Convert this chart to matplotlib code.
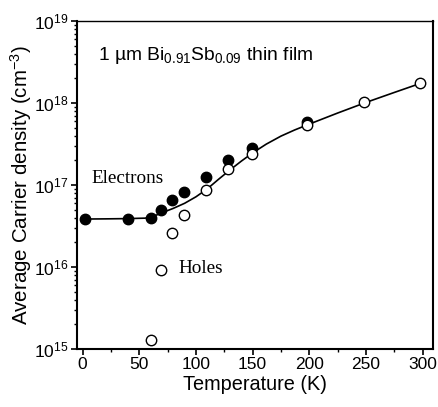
import numpy as np
import matplotlib
matplotlib.use("Agg")
import matplotlib.pyplot as plt
from matplotlib.ticker import LogLocator, MultipleLocator, FixedLocator

plt.rcParams['font.family'] = ['Liberation Sans', 'DejaVu Sans']
plt.rcParams['mathtext.fontset'] = 'custom'
plt.rcParams['mathtext.rm'] = 'Liberation Sans'
plt.rcParams['mathtext.it'] = 'Liberation Sans:italic'
plt.rcParams['mathtext.bf'] = 'Liberation Sans:bold'

# electrons (filled circles)
T_elec = [2, 40, 60, 69, 79, 89, 109, 128.5, 149, 198]
n_elec = [3.85e16, 3.9e16, 4.0e16, 4.9e16, 6.6e16, 8.2e16, 1.26e17, 2.0e17, 2.83e17, 5.86e17]

# holes (open circles)
T_hole = [60, 69, 79, 89, 109, 128.5, 149, 198, 248, 297.5]
n_hole = [1.29e15, 9.2e15, 2.58e16, 4.3e16, 8.6e16, 1.57e17, 2.39e17, 5.35e17, 1.03e18, 1.77e18]

# guide line
T_fit = [0, 20, 40, 55, 60, 65, 70, 80, 90, 100, 110, 120, 130, 140, 150,
         162, 175, 187, 200, 225, 250, 275, 300]
n_fit = [3.85e16, 3.87e16, 3.9e16, 3.95e16, 4.05e16, 4.3e16, 4.6e16, 5.2e16,
         6.0e16, 7.2e16, 9.0e16, 1.18e17, 1.53e17, 1.96e17, 2.47e17,
         3.16e17, 3.96e17, 4.7e17, 5.55e17, 7.57e17, 1.02e18, 1.35e18, 1.78e18]

fig = plt.figure(figsize=(4.39, 4.07), dpi=100)
ax = fig.add_axes([0.1754, 0.1425, 0.8106, 0.8055])

ax.plot(T_fit, n_fit, color='black', lw=1.2, zorder=2)
ax.plot(T_elec, n_elec, 'o', ms=7.5, mfc='black', mec='black', zorder=3)
ax.plot(T_hole, n_hole, 'o', ms=7.5, mfc='white', mec='black', mew=1.0, zorder=4)

ax.set_yscale('log')
ax.set_xlim(-5, 309)
ax.set_ylim(1e15, 1e19)

ax.xaxis.set_major_locator(MultipleLocator(50))
ax.xaxis.set_minor_locator(MultipleLocator(25))
ax.yaxis.set_major_locator(FixedLocator([1e15, 1e16, 1e17, 1e18, 1e19]))
ax.yaxis.set_minor_locator(LogLocator(base=10, subs=np.arange(2, 10), numticks=20))
ax.set_yticklabels([r'$10^{15}$', r'$10^{16}$', r'$10^{17}$', r'$10^{18}$', r'$10^{19}$'])

ax.tick_params(which='major', direction='out', length=4, width=1.2, labelsize=12.5, pad=2,
               top=False, right=False)
ax.tick_params(which='minor', direction='out', length=2.5, width=1.0, top=False, right=False)
for s in ['left', 'right', 'bottom']:
    ax.spines[s].set_linewidth(1.5)
ax.spines['top'].set_linewidth(1.0)

ax.set_xlabel('Temperature (K)', fontsize=14.3, labelpad=2)
ax.set_ylabel(r'Average Carrier density (cm$^{-3}$)', fontsize=14.8, labelpad=0)

ax.text(0.06, 0.895, r'1 µm Bi$_{0.91}$Sb$_{0.09}$ thin film', transform=ax.transAxes,
        fontsize=13.9, ha='left', va='center')
ax.text(0.04, 0.52, 'Electrons', transform=ax.transAxes, fontsize=13.8,
        family='Liberation Serif', ha='left', va='center')
ax.text(0.285, 0.245, 'Holes', transform=ax.transAxes, fontsize=13.8,
        family='Liberation Serif', ha='left', va='center')

fig.savefig('out.png', dpi=100)
